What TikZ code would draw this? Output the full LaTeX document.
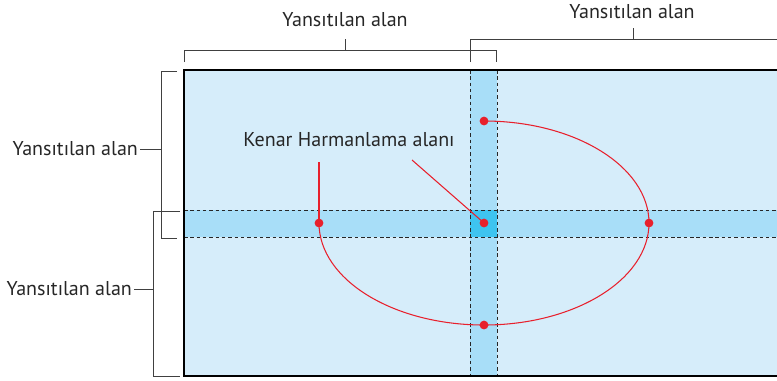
\documentclass[tikz,border=0pt]{standalone}
\usepackage{fontspec}
\setmainfont{PT Sans}
\definecolor{areablue}{RGB}{214,237,250}
\definecolor{bandblue}{RGB}{168,222,248}
\definecolor{blendblue}{RGB}{62,196,240}
\definecolor{edgered}{RGB}{232,32,44}
\begin{document}
\begin{tikzpicture}[x=0.02cm,y=-0.02cm,
    bracket/.style={draw=black!75,line width=0.5pt},
    guide/.style={draw=black!85,line width=0.45pt,dash pattern=on 2pt off 1.6pt},
    redline/.style={draw=edgered,line width=0.6pt},
    reddot/.style={circle,fill=edgered,inner sep=0pt,minimum size=5pt},
    areatext/.style={font=\fontsize{11.4}{13}\selectfont,text=black!85,inner sep=1pt}]
    \useasboundingbox (0,0) rectangle (777,380);
    % projected area and blending bands
    \fill[areablue] (184,70) rectangle (777,376);
    \fill[bandblue] (470,70) rectangle (497,376);
    \fill[bandblue] (184,210) rectangle (777,237);
    \fill[blendblue] (470,210) rectangle (497,237);
    \draw[guide] (470,70) -- (470,376);
    \draw[guide] (497,70) -- (497,376);
    \draw[guide] (184,210) -- (777,210);
    \draw[guide] (184,237) -- (777,237);
    \draw[line width=1.6pt] (777,70) -- (184,70) -- (184,376) -- (777,376);
    % brackets
    \coordinate (ta) at (345,50);
    \coordinate (tb) at (633,39);
    \coordinate (la) at (161,149);
    \coordinate (lb) at (153,289);
    \draw[bracket] (184,62) -- (184,50) -- (496,50) -- (496,62);
    \draw[bracket] (470,62) -- (470,39) -- (777,39);
    \draw[bracket] (177,71) -- (161,71) -- (161,238) -- (177,238);
    \draw[bracket] (180,211) -- (153,211) -- (153,376) -- (180,376);
    \node[areatext] (topa) at (345,20) {Yansıtılan alan};
    \node[areatext] (topb) at (632,12) {Yansıtılan alan};
    \node[areatext,anchor=east] (lefta) at (140,149) {Yansıtılan alan};
    \node[areatext,anchor=east] (leftb) at (134,289) {Yansıtılan alan};
    \draw[bracket] (ta) -- ++(0,-11);
    \draw[bracket] (tb) -- ++(0,-11);
    \draw[bracket] (lefta) -- (la);
    \draw[bracket] (leftb) -- (lb);
    % edge blending path
    \node[reddot] (ptop) at (484,121) {};
    \node[reddot] (pright) at (649,223) {};
    \node[reddot] (pbottom) at (484,325) {};
    \node[reddot] (pleft) at (319,223) {};
    \node[reddot] (pmid) at (484,223) {};
    \draw[redline] (ptop.center) arc[start angle=-90,end angle=180,x radius=165,y radius=102];
    \node[areatext] (blend) at (349,140) {Kenar Harmanlama alanı};
    \coordinate (lead) at (412,160);
    \coordinate (leftlead) at (319,162);
    \draw[redline] (lead) -- (pmid.center);
    \draw[redline] (leftlead) -- (pleft.center);
\end{tikzpicture}
\end{document}
